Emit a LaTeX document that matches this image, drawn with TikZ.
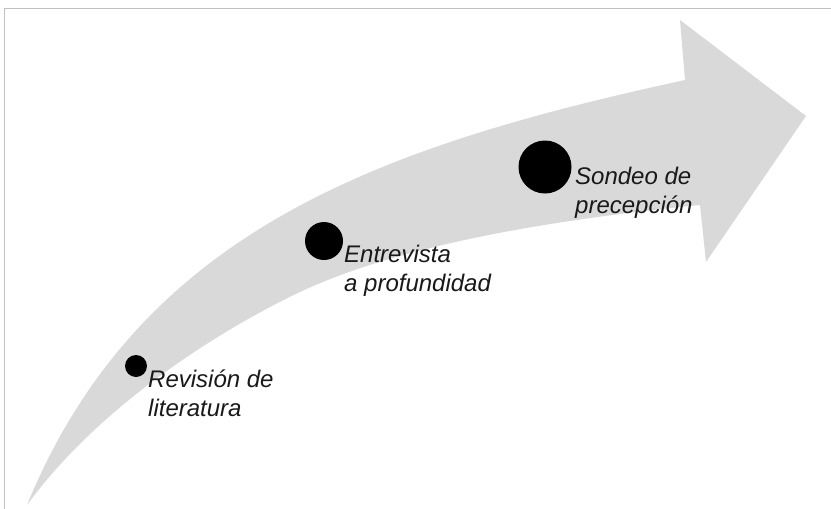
\documentclass[tikz,border=0pt]{standalone}
\usepackage{fontspec}
\setmainfont{Liberation Sans}
\definecolor{arrowgray}{HTML}{D9D9D9}
\definecolor{framegray}{HTML}{C0C0C0}
\begin{document}
\begin{tikzpicture}[x=1pt, y=-1pt,
    dot/.style={circle, fill=black, inner sep=0pt},
    steptext/.style={anchor=base west, align=left, inner sep=0pt,
      font=\itshape\fontsize{24}{29}\selectfont, text=black!90}]
    \useasboundingbox (0,0) rectangle (831,509);

    % Frame lines on top and left
    \draw[framegray, line width=1pt] (4.5,509) -- (4.5,8) -- (831,8);

    % Curved arrow
    \fill[arrowgray] (27,505) .. controls (140,230) and (381,146) .. (685,80)
        -- (680,20) -- (806,116) -- (706,262) -- (700,205)
        .. controls (550,220) and (400,245) .. (300,292)
        .. controls (220,330) and (100,405) .. (27,505) -- cycle;

    % Dots for the steps
    \node[dot, minimum size=22pt] (lit) at (136,366) {};
    \node[dot, minimum size=38pt] (ent) at (324,241) {};
    \node[dot, minimum size=53pt] (son) at (545,167) {};

    % Step labels (anchored on the second line)
    \node[steptext] (litText) at (148,416) {Revisión de\\literatura};
    \node[steptext] (entText) at (344,291) {Entrevista\\a profundidad};
    \node[steptext] (sonText) at (575,213) {Sondeo de\\precepción};
\end{tikzpicture}
\end{document}
